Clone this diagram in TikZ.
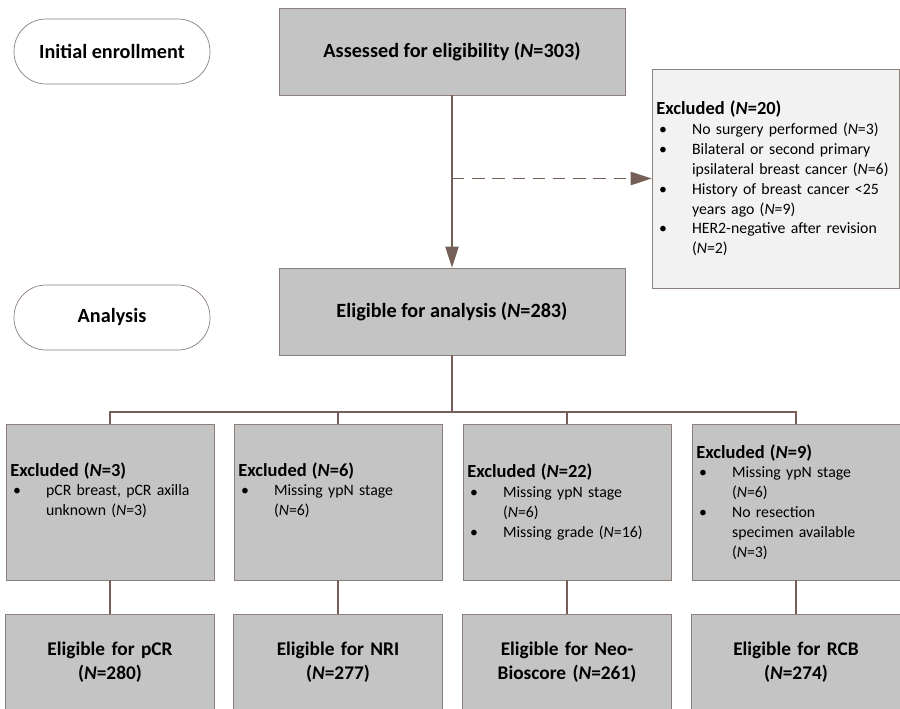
\documentclass[tikz,border=0pt]{standalone}
\usepackage{fontspec}
\setmainfont{Carlito}
\usetikzlibrary{arrows.meta}
\definecolor{boxgray}{RGB}{196,196,196}
\definecolor{exclgray}{RGB}{242,242,242}
\definecolor{edgegray}{RGB}{140,126,121}
\definecolor{linkbrown}{RGB}{118,95,87}
\newcommand{\bul}{\par\hangindent=20.3pt\hangafter=1\noindent\makebox[20.3pt][l]{\hspace{1.5pt}\textbullet}}
\newcommand{\hd}[1]{\noindent{\fontsize{10.5}{13}\selectfont\bfseries #1}}
\tikzset{
  phase/.style={draw=edgegray,fill=white,rounded corners=0.64cm,minimum width=3.92cm,minimum height=1.3cm,
    font=\fontsize{11.5}{14}\selectfont\bfseries},
  mainbox/.style={draw=edgegray,fill=boxgray,minimum width=6.92cm,minimum height=1.74cm,
    font=\fontsize{11.5}{14}\selectfont\bfseries},
  exbox/.style={draw=edgegray,fill=boxgray,minimum width=4.16cm,minimum height=3.12cm,
    text width=4.16cm-5pt,inner xsep=2.5pt,align=left,font=\fontsize{9}{11.3}\selectfont},
  elbox/.style={draw=edgegray,fill=boxgray,minimum width=4.16cm,minimum height=1.94cm,
    text width=4.16cm-6pt,align=center,font=\fontsize{11}{13.5}\selectfont\bfseries},
  link/.style={draw=linkbrown,line width=1.1pt},
  arr/.style={link,-{Triangle[length=12pt,width=7.5pt]}}
}
\begin{document}
\begin{tikzpicture}[x=0.02cm,y=-0.02cm]
\useasboundingbox (0,0) rectangle (900,709);
% phases
\node[phase] (enroll) at (112,51.5) {Initial enrollment};
\node[phase] (analysis) at (112,317.5) {Analysis};
% main flow
\node[mainbox] (assess) at (452,51.5) {Assessed for eligibility (\textit{N}=303)};
\node[mainbox] (eligible) at (452,311.5) {Eligible for analysis (\textit{N}=283)};
\node[draw=edgegray,fill=exclgray,minimum width=4.94cm,minimum height=4.38cm,text width=4.94cm-5pt,
  inner xsep=2.5pt,align=left,font=\fontsize{9}{11.3}\selectfont] (excl) at (775.5,178.5)
  {\hd{Excluded (\textit{N}=20)}
   \bul No surgery performed (\textit{N}=3)
   \bul Bilateral or second primary\newline ipsilateral breast cancer (\textit{N}=6)
   \bul History of breast cancer <25\newline years ago (\textit{N}=9)
   \bul HER2-negative after revision\newline (\textit{N}=2)\par};
\draw[arr] (assess.south) -- (eligible.north);
\draw[arr,dash pattern=on 7pt off 4.5pt] (assess.south |- excl.west) -- (excl.west);
% exclusions per endpoint
\node[exbox] (ex1) at (110,502) {\hd{Excluded (\textit{N}=3)}
  \bul pCR breast, pCR axilla\newline unknown (\textit{N}=3)\par\strut};
\node[exbox] (ex2) at (338,502) {\hd{Excluded (\textit{N}=6)}
  \bul Missing ypN stage\newline (\textit{N}=6)\par\strut};
\node[exbox] (ex3) at (567,502) {\hd{Excluded (\textit{N}=22)}
  \bul Missing ypN stage\newline (\textit{N}=6)
  \bul Missing grade (\textit{N}=16)\par};
\node[exbox] (ex4) at (796,502) {\hd{Excluded (\textit{N}=9)}
  \bul Missing ypN stage\newline (\textit{N}=6)
  \bul No resection\newline specimen available\newline (\textit{N}=3)\par};
% eligible per endpoint
\node[elbox] (el1) at (110,662.5) {Eligible for pCR\\(\textit{N}=280)};
\node[elbox] (el2) at (338,662.5) {Eligible for NRI\\(\textit{N}=277)};
\node[elbox] (el3) at (567,662.5) {Eligible for Neo-\\Bioscore (\textit{N}=261)};
\node[elbox] (el4) at (796,662.5) {Eligible for RCB\\(\textit{N}=274)};
% connectors
\coordinate (bus) at (452,412);
\draw[link] (eligible.south) -- (bus);
\draw[link] (ex1.north) |- (bus) -| (ex4.north);
\foreach \i in {1,...,4} {
  \draw[link] (ex\i.north) -- (ex\i.north |- bus);
  \draw[link] (ex\i.south) -- (el\i.north);
}
\end{tikzpicture}
\end{document}
